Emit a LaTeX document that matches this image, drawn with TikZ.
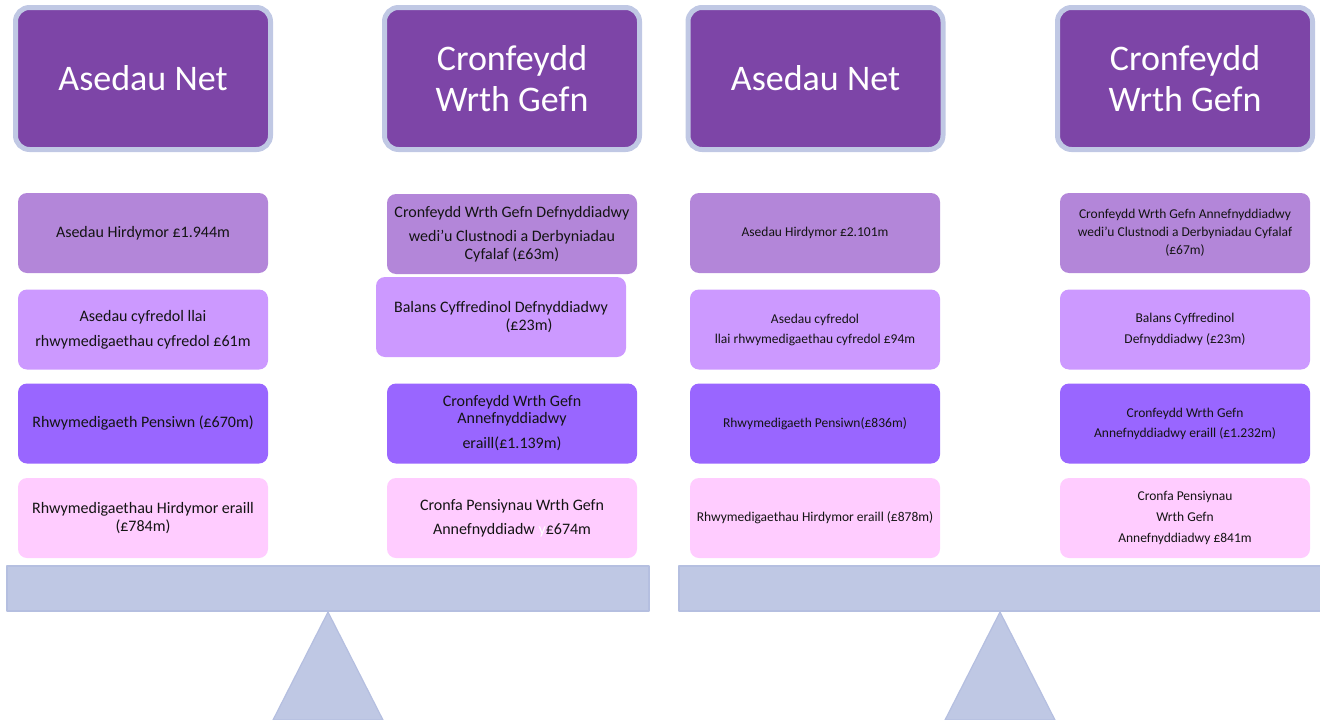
\documentclass[tikz,border=0pt]{standalone}
\usepackage{fontspec}
\setmainfont{Carlito}
\definecolor{hdrpurple}{RGB}{125,69,167}
\definecolor{hdrborder}{RGB}{192,200,228}
\definecolor{rowa}{RGB}{179,134,217}
\definecolor{rowb}{RGB}{204,153,255}
\definecolor{rowc}{RGB}{153,102,255}
\definecolor{rowd}{RGB}{255,204,255}
\definecolor{beamfill}{RGB}{191,200,228}
\definecolor{beamline}{RGB}{181,191,224}
\definecolor{txt}{RGB}{20,20,20}
\tikzset{
  hdrbox/.style={rectangle, rounded corners=14pt, fill=hdrpurple, draw=hdrborder, line width=5pt,
    minimum width=255pt, minimum height=142pt, inner sep=0pt, text=white, align=center,
    font=\fontsize{36}{41}\selectfont},
  rowbox/.style={rectangle, rounded corners=9pt, minimum width=250pt, minimum height=80pt,
    inner sep=0pt, text=txt, align=center},
  bigtxt/.style={font=\fontsize{16}{18}\selectfont},
  smalltxt/.style={font=\fontsize{13.5}{18}\selectfont},
  beam/.style={fill=beamfill, draw=beamline, line width=1.2pt, line join=round}
}
\begin{document}
\begin{tikzpicture}[x=1pt,y=-1pt]
\useasboundingbox (0,0) rectangle (1320,720);
% headers
\node[hdrbox] (h1) at (143,78.5) {Asedau Net};
\node[hdrbox] (h2) at (512,78.5) {Cronfeydd\\Wrth Gefn};
\node[hdrbox] (h3) at (815.5,78.5) {Asedau Net};
\node[hdrbox] (h4) at (1185,78.5) {Cronfeydd\\Wrth Gefn};
% column 1
\node[rowbox, bigtxt, fill=rowa] (a1) at (143,233) {Asedau Hirdymor £1.944m};
\node[rowbox, bigtxt, fill=rowb] (a2) at (143,329.5) {Asedau cyfredol llai\\[7pt]rhwymedigaethau cyfredol £61m};
\node[rowbox, bigtxt, fill=rowc] (a3) at (143,423.5) {Rhwymedigaeth Pensiwn (£670m)};
\node[rowbox, bigtxt, fill=rowd] (a4) at (143,518) {Rhwymedigaethau Hirdymor eraill\\(£784m)};
% column 2
\node[rowbox, bigtxt, fill=rowa] (b1) at (512,234) {Cronfeydd Wrth Gefn Defnyddiadwy\\[6pt]wedi’u Clustnodi a Derbyniadau\\Cyfalaf (£63m)};
\node[rowbox, bigtxt, fill=rowb] (b2) at (501,317) {Balans Cyffredinol Defnyddiadwy\\\hspace*{3.5em}(£23m)};
\node[rowbox, bigtxt, fill=rowc] (b3) at (512,423.5) {Cronfeydd Wrth Gefn\\[-1pt]Annefnyddiadwy\\[7pt]eraill(£1.139m)};
\node[rowbox, bigtxt, fill=rowd] (b4) at (512,518) {Cronfa Pensiynau Wrth Gefn\\[6pt]Annefnyddiadw {\color{white}y}£674m};
% column 3
\node[rowbox, smalltxt, fill=rowa] (c1) at (815,233) {Asedau Hirdymor £2.101m};
\node[rowbox, smalltxt, fill=rowb] (c2) at (815,329.5) {Asedau cyfredol\\[2pt]llai rhwymedigaethau cyfredol £94m};
\node[rowbox, smalltxt, fill=rowc] (c3) at (815,423.5) {Rhwymedigaeth Pensiwn(£836m)};
\node[rowbox, smalltxt, fill=rowd] (c4) at (815,518) {Rhwymedigaethau Hirdymor eraill (£878m)};
% column 4
\node[rowbox, smalltxt, fill=rowa] (d1) at (1185,233) {Cronfeydd Wrth Gefn Annefnyddiadwy\\wedi’u Clustnodi a Derbyniadau Cyfalaf\\(£67m)};
\node[rowbox, smalltxt, fill=rowb] (d2) at (1185,329.5) {Balans Cyffredinol\\[3pt]Defnyddiadwy (£23m)};
\node[rowbox, smalltxt, fill=rowc] (d3) at (1185,423.5) {Cronfeydd Wrth Gefn\\[2pt]Annefnyddiadwy eraill (£1.232m)};
\node[rowbox, smalltxt, fill=rowd] (d4) at (1185,518) {Cronfa Pensiynau\\[3pt]Wrth Gefn\\[3pt]Annefnyddiadwy £841m};
% balances
\draw[beam] (7,566) rectangle (649,611);
\draw[beam] (328,612) -- (383,720) -- (273,720) -- cycle;
\draw[beam] (679,566) rectangle (1325,611);
\draw[beam] (1000,612) -- (1055,720) -- (945,720) -- cycle;
\end{tikzpicture}
\end{document}
